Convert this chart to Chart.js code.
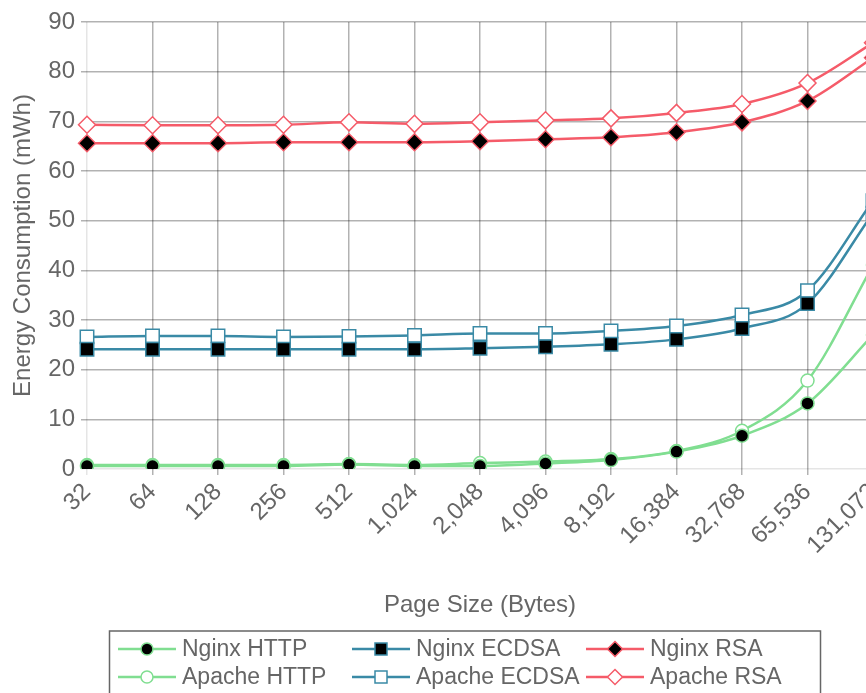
<!DOCTYPE html>
<html>
<head>
<meta charset="utf-8">
<script src="https://cdn.jsdelivr.net/npm/chart.js@4.4.1/dist/chart.umd.min.js"></script>
<style>
    html, body { margin: 0; padding: 0; background: #fff; }
    #wrap { width: 866px; height: 693px; overflow: hidden; position: relative; }
    #wrap canvas { position: absolute; left: 0; top: 0; }
</style>
</head>
<body>
<div id="wrap"><canvas id="energyChart" width="900" height="710"></canvas></div>
<script>
// Page sizes (x categories) and energy per series, in mWh
const pageSizes = ['32', '64', '128', '256', '512', '1,024', '2,048', '4,096', '8,192', '16,384', '32,768', '65,536', '131,072'];
const yTicks = [0, 10, 20, 30, 40, 50, 60, 70, 80, 90];

const nginxHttp   = [0.6, 0.6, 0.6, 0.6, 0.9, 0.6, 0.6, 1.1, 1.8, 3.5, 6.7, 13.2, 27];
const apacheHttp  = [0.8, 0.8, 0.8, 0.8, 1.0, 0.8, 1.2, 1.5, 2.0, 3.6, 7.7, 17.8, 41];
const nginxEcdsa  = [24.1, 24.1, 24.1, 24.1, 24.1, 24.1, 24.3, 24.6, 25.1, 26.1, 28.3, 33.3, 51.5];
const apacheEcdsa = [26.6, 26.8, 26.8, 26.6, 26.7, 26.9, 27.3, 27.3, 27.8, 28.8, 31.0, 35.9, 54];
const nginxRsa    = [65.6, 65.6, 65.6, 65.8, 65.8, 65.8, 66.0, 66.4, 66.8, 67.8, 69.8, 74.1, 82.8];
const apacheRsa   = [69.3, 69.2, 69.2, 69.3, 69.8, 69.5, 69.8, 70.2, 70.6, 71.7, 73.5, 77.7, 85.8];

const GREEN = 'rgb(128, 222, 145)';
const TEAL = 'rgb(58, 138, 166)';
const RED = 'rgb(245, 91, 105)';

Chart.defaults.font.family = '"Liberation Sans", Arial, sans-serif';
Chart.defaults.color = '#666';

function series(label, data, color, style, filled) {
    const radius = style === 'circle' ? 6.5 : (style === 'rect' ? 9.5 : 8.5);
    return {
        label: label,
        data: data,
        borderColor: color,
        backgroundColor: filled ? '#000' : '#fff',
        borderWidth: 2.5,
        pointStyle: style,
        pointRadius: radius,
        pointBorderColor: color,
        pointBorderWidth: 1.5,
        pointBackgroundColor: filled ? '#000' : '#fff',
        cubicInterpolationMode: 'monotone',
        fill: false
    };
}

// Draw one legend/marker symbol
function drawMarker(ctx, style, x, y, fill, stroke) {
    ctx.beginPath();
    if (style === 'circle') {
        ctx.arc(x, y, 6, 0, Math.PI * 2);
    } else if (style === 'rect') {
        ctx.rect(x - 6, y - 6, 12, 12);
    } else {
        ctx.moveTo(x, y - 7.5);
        ctx.lineTo(x + 7.5, y);
        ctx.lineTo(x, y + 7.5);
        ctx.lineTo(x - 7.5, y);
        ctx.closePath();
    }
    ctx.fillStyle = fill;
    ctx.fill();
    ctx.lineWidth = 1.5;
    ctx.strokeStyle = stroke;
    ctx.stroke();
}

// Boxed legend laid out in three columns, two rows
const boxLegend = {
    id: 'boxLegend',
    afterDraw(chart) {
        const ctx = chart.ctx;
        ctx.save();
        ctx.strokeStyle = '#666';
        ctx.lineWidth = 1.5;
        ctx.strokeRect(109.5, 631, 711, 80);
        ctx.font = '23px "Liberation Sans", Arial, sans-serif';
        ctx.textBaseline = 'middle';
        chart.data.datasets.forEach(function(ds, i) {
            const x0 = 118 + Math.floor(i / 2) * 234;
            const y = 649 + (i % 2) * 28;
            ctx.beginPath();
            ctx.moveTo(x0, y);
            ctx.lineTo(x0 + 58, y);
            ctx.strokeStyle = ds.borderColor;
            ctx.lineWidth = 2.5;
            ctx.stroke();
            drawMarker(ctx, ds.pointStyle, x0 + 29, y, ds.pointBackgroundColor, ds.borderColor);
            ctx.fillStyle = '#666';
            ctx.fillText(ds.label, x0 + 64, y + 1);
        });
        ctx.restore();
    }
};

const GRID_DARK = 'rgba(0, 0, 0, 0.3)';
const GRID_LIGHT = 'rgba(0, 0, 0, 0.1)';

new Chart(document.getElementById('energyChart'), {
    type: 'line',
    data: {
        labels: pageSizes,
        datasets: [
            series('Nginx HTTP', nginxHttp, GREEN, 'circle', true),
            series('Apache HTTP', apacheHttp, GREEN, 'circle', false),
            series('Nginx ECDSA', nginxEcdsa, TEAL, 'rect', true),
            series('Apache ECDSA', apacheEcdsa, TEAL, 'rect', false),
            series('Nginx RSA', nginxRsa, RED, 'rectRot', true),
            series('Apache RSA', apacheRsa, RED, 'rectRot', false)
        ]
    },
    options: {
        responsive: false,
        animation: false,
        layout: {
            padding: { top: 22, right: 27, bottom: 90, left: 0 }
        },
        plugins: {
            legend: { display: false },
            tooltip: { enabled: false }
        },
        scales: {
            x: {
                offset: false,
                border: { display: false },
                grid: {
                    color: function(c) { return c.index === 0 ? GRID_LIGHT : GRID_DARK; },
                    tickLength: 6,
                    lineWidth: 1.5
                },
                ticks: {
                    font: { size: 24 },
                    color: '#666',
                    minRotation: 45,
                    maxRotation: 45,
                    autoSkip: false,
                    padding: 3
                },
                title: {
                    display: true,
                    text: 'Page Size (Bytes)',
                    font: { size: 24 },
                    color: '#666',
                    padding: 0
                },
                afterFit: function(scale) { scale.height = 151; }
            },
            y: {
                min: 0,
                max: 90,
                border: { display: false },
                grid: {
                    color: function(c) { return c.index === 0 ? GRID_LIGHT : GRID_DARK; },
                    tickLength: 6,
                    lineWidth: 1.5
                },
                afterBuildTicks: function(scale) {
                    scale.ticks = yTicks.map(function(v) { return { value: v }; });
                },
                ticks: {
                    font: { size: 24 },
                    color: '#666',
                    padding: 6
                },
                title: {
                    display: true,
                    text: 'Energy Consumption (mWh)',
                    font: { size: 24 },
                    color: '#666',
                    padding: { top: 9, bottom: 0 }
                },
                afterFit: function(scale) { scale.width = 87; }
            }
        }
    },
    plugins: [boxLegend]
});
</script>
</body>
</html>
